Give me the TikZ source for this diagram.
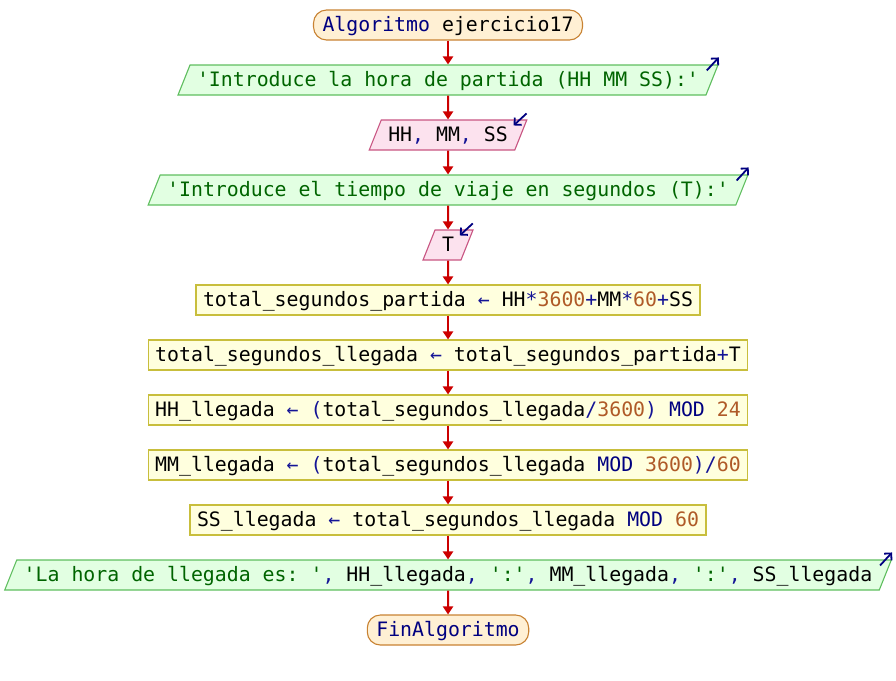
\documentclass[tikz,border=0pt]{standalone}
\usepackage{fontspec}
\setmonofont{DejaVu Sans Mono}
\usetikzlibrary{shapes.geometric,arrows.meta}

\definecolor{navy}{RGB}{0,0,128}
\definecolor{opblue}{RGB}{20,20,150}
\definecolor{numbrown}{RGB}{175,90,40}
\definecolor{strgreen}{RGB}{0,100,0}
\definecolor{termfill}{RGB}{255,240,212}
\definecolor{termline}{RGB}{200,130,50}
\definecolor{outfill}{RGB}{226,255,226}
\definecolor{outline}{RGB}{95,190,95}
\definecolor{infill}{RGB}{252,226,238}
\definecolor{inline}{RGB}{200,85,130}
\definecolor{procfill}{RGB}{255,255,222}
\definecolor{procline}{RGB}{200,190,60}
\definecolor{flowred}{RGB}{204,0,0}

% token colouring
\newcommand{\opx}[1]{\textcolor{opblue}{#1}}
\newcommand{\numx}[1]{\textcolor{numbrown}{#1}}
\newcommand{\strx}[1]{\textcolor{strgreen}{#1}}
\newcommand{\kwx}[1]{\textcolor{navy}{#1}}

\begin{document}
\begin{tikzpicture}[x=1pt,y=-1pt,
  base/.style={font=\ttfamily\fontsize{19.85}{24}\selectfont,
    text height=21.7pt, text depth=8.3pt, inner ysep=0pt, line width=1.1pt},
  term/.style={base, rounded corners=13pt, draw=termline, fill=termfill, inner xsep=9pt},
  proc/.style={base, draw=procline, fill=procfill, inner xsep=7pt},
  para/.style={base, trapezium, trapezium left angle=68.2,
    trapezium right angle=111.8, inner xsep=7pt},
  outp/.style={para, draw=outline, fill=outfill},
  inp/.style={para, draw=inline, fill=infill},
  flow/.style={draw=flowred, line width=2pt, -{Triangle[length=8pt,width=10pt]}},
  icon/.style={draw=navy, line width=1.8pt, -{Straight Barb[length=5pt,width=10pt]}}]

\useasboundingbox (0,0) rectangle (896,680);

\node[term] (start) at (448,25) {\kwx{Algoritmo} ejercicio17};
\node[outp] (o1) at (448,80) {\strx{'Introduce la hora de partida (HH MM SS):'}};
\node[inp] (i1) at (448,135) {HH\opx{,} MM\opx{,} SS};
\node[outp] (o2) at (448,190) {\strx{'Introduce el tiempo de viaje en segundos (T):'}};
\node[inp] (i2) at (448,245) {T};
\node[proc] (p1) at (448,300) {total\_segundos\_partida \opx{←} HH\opx{*}\numx{3600}\opx{+}MM\opx{*}\numx{60}\opx{+}SS};
\node[proc] (p2) at (448,355) {total\_segundos\_llegada \opx{←} total\_segundos\_partida\opx{+}T};
\node[proc] (p3) at (448,410) {HH\_llegada \opx{←} \opx{(}total\_segundos\_llegada\opx{/}\numx{3600}\opx{)} \kwx{MOD} \numx{24}};
\node[proc] (p4) at (448,465) {MM\_llegada \opx{←} \opx{(}total\_segundos\_llegada \kwx{MOD} \numx{3600}\opx{)/}\numx{60}};
\node[proc] (p5) at (448,520) {SS\_llegada \opx{←} total\_segundos\_llegada \kwx{MOD} \numx{60}};
\node[outp] (o3) at (448,575) {\strx{'La hora de llegada es: '}\opx{,} HH\_llegada\opx{,} \strx{':'}\opx{,} MM\_llegada\opx{,} \strx{':'}\opx{,} SS\_llegada};
\node[term] (stop) at (448,630) {\kwx{FinAlgoritmo}};

% flow connectors
\foreach \a/\b in {start/o1, o1/i1, i1/o2, o2/i2, i2/p1, p1/p2, p2/p3, p3/p4, p4/p5, p5/o3, o3/stop}
  \draw[flow] (\a) -- (\b);

% output markers
\foreach \n in {o1, o2, o3}
  \draw[icon] ([shift={(-12,6)}]\n.top right corner) -- ([shift={(0,-7)}]\n.top right corner);

% input markers
\foreach \n in {i1, i2}
  \draw[icon] ([shift={(-1,-6)}]\n.top right corner) -- ([shift={(-14,6)}]\n.top right corner);

\end{tikzpicture}
\end{document}
